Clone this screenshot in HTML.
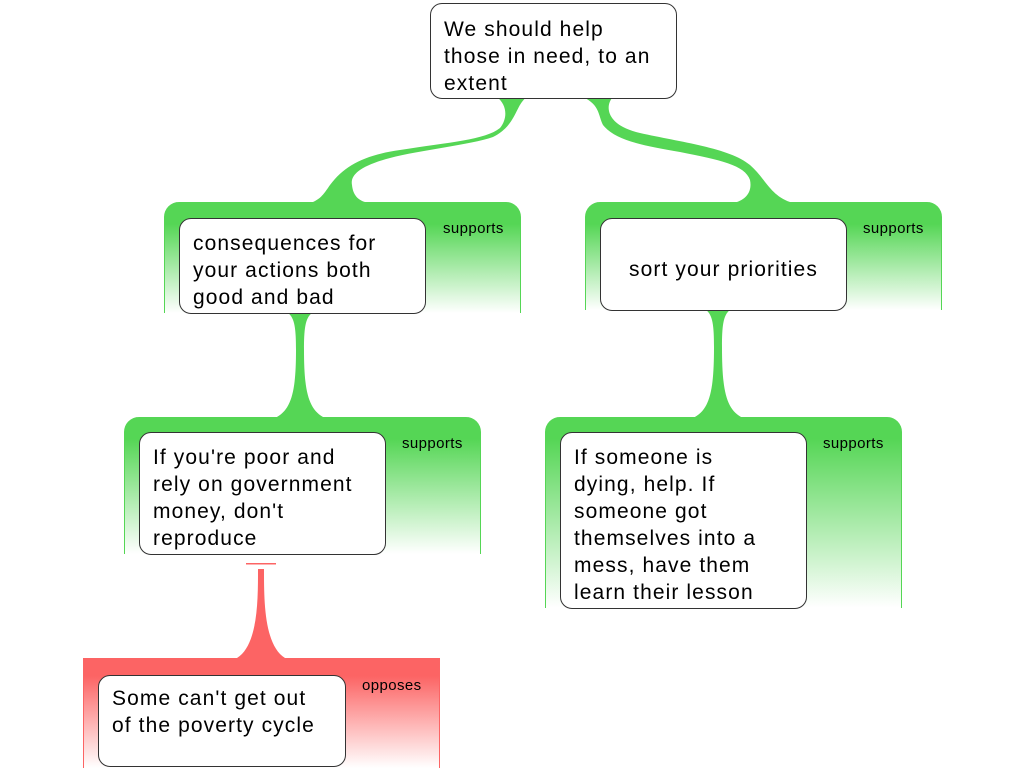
<!DOCTYPE html>
<html><head><meta charset="utf-8"><style>
body{margin:0;width:1024px;height:768px;background:#fff;position:relative;overflow:hidden;font-family:"Liberation Sans",sans-serif}
.g{position:absolute;border-radius:15px 15px 0 0;}
.gg{background:linear-gradient(#55d655 0px,#55d655 22px,#ffffff 100%);border-left:1px solid #55d655;border-right:1px solid #55d655}
.gr{background:linear-gradient(#fc6464 0px,#fc6464 18px,#ffffff 100%);border-left:1px solid #fc6464;border-right:1px solid #fc6464;border-radius:0}
.lbl{position:absolute;font-size:15px;color:#000;letter-spacing:0.4px}
.b{position:absolute;background:#fff;border:1px solid #333;border-radius:12px;box-sizing:border-box;font-size:21px;line-height:27px;padding:10px 13px;color:#000;white-space:nowrap;letter-spacing:1.1px}
</style></head><body>
<svg width="1024" height="768" style="position:absolute;left:0;top:0">
<g fill="#55d655">
<path d="M497,97 L527,97 C515,105 517,125 493,137 C470,145 420,150 390,158 C360,166 350,175 352,185 C353,195 358,200 365,202 L313,202 C322,198 325,192 330,185 C345,165 365,155 400,150 C450,142 485,140 500,128 C508,118 507,105 497,97 Z"/>
<path d="M583,97 L613,97 C605,105 605,125 640,133 C680,142 730,148 750,165 C765,178 770,195 790,202 L737,202 C748,198 752,190 750,180 C745,165 720,160 680,152 C640,145 615,140 603,125 C598,115 600,105 583,97 Z"/>
<path d="M288,313 L312,313 C305,318 304,330 304,350 C304,390 308,410 325,418 L275,418 C292,410 296,390 296,350 C296,330 295,318 288,313 Z"/>
<path d="M706,310 L730,310 C723,315 722,327 722,347 C722,390 726,410 743,418 L693,418 C710,410 714,390 714,347 C714,327 713,315 706,310 Z"/>
</g>
<g fill="#fc6464">
<rect x="246" y="563" width="30" height="1.5"/>
<path d="M258,569 L264,569 C264,600 264,645 285,658 L237,658 C258,645 258,600 258,569 Z"/>
</g>
</svg>
<div class="g gg" style="left:164px;top:202px;width:355px;height:111px"></div>
<div class="lbl" style="left:443px;top:220px">supports</div>
<div class="g gg" style="left:585px;top:202px;width:355px;height:108px"></div>
<div class="lbl" style="left:863px;top:220px">supports</div>
<div class="g gg" style="left:124px;top:417px;width:355px;height:137px"></div>
<div class="lbl" style="left:402px;top:435px">supports</div>
<div class="g gg" style="left:545px;top:417px;width:355px;height:191px"></div>
<div class="lbl" style="left:823px;top:435px">supports</div>
<div class="g gr" style="left:83px;top:658px;width:355px;height:110px"></div>
<div class="lbl" style="left:362px;top:677px">opposes</div>

<div class="b" style="left:430px;top:3px;width:247px;height:96px;padding-top:12px">We should help<br>those in need, to an<br>extent</div>
<div class="b" style="left:179px;top:218px;width:247px;height:96px;padding-top:11px">consequences for<br>your actions both<br>good and bad</div>
<div class="b" style="left:600px;top:218px;width:247px;height:93px;padding-top:37px;text-align:center">sort your priorities</div>
<div class="b" style="left:139px;top:432px;width:247px;height:123px;padding-top:11px">If you're poor and<br>rely on government<br>money, don't<br>reproduce</div>
<div class="b" style="left:560px;top:432px;width:247px;height:177px;padding-top:11px">If someone is<br>dying, help. If<br>someone got<br>themselves into a<br>mess, have them<br>learn their lesson</div>
<div class="b" style="left:98px;top:675px;width:248px;height:92px;padding-top:9px">Some can't get out<br>of the poverty cycle</div>
</body></html>
